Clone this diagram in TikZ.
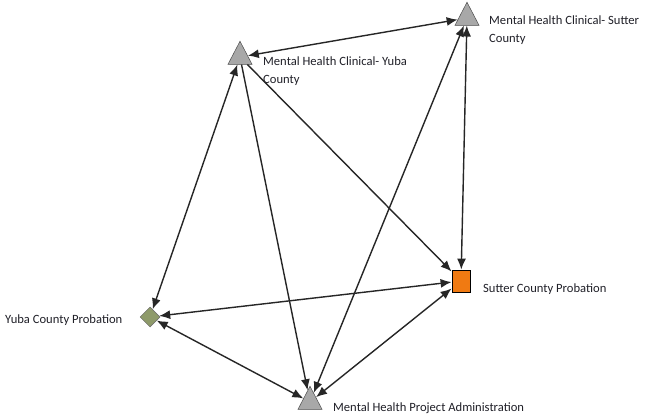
\documentclass[tikz,border=0pt]{standalone}
\usepackage{fontspec}
\setmainfont{Carlito}
\usetikzlibrary{shapes.geometric,arrows.meta}
\definecolor{actorgray}{HTML}{A8A8A8}
\definecolor{probor}{HTML}{F07A12}
\definecolor{probolive}{HTML}{8E9A6A}
\definecolor{labelink}{HTML}{202028}
\begin{document}
\begin{tikzpicture}[x=1pt,y=-1pt,
  tri/.style={isosceles triangle, shape border rotate=90, isosceles triangle stretches,
    minimum width=24pt, minimum height=23pt, inner sep=0pt, fill=actorgray, draw=black!70, line width=0.5pt},
  sq/.style={rectangle, minimum width=18pt, minimum height=22pt, inner sep=0pt, fill=probor, draw=black, line width=0.8pt},
  dia/.style={diamond, minimum width=20pt, minimum height=20pt, inner sep=0pt, fill=probolive, draw=black!60, line width=0.5pt},
  lbl/.style={anchor=west, font=\fontsize{12.6}{18}\selectfont, text=labelink, inner sep=0pt, align=left},
  tie/.style={line width=1.4pt, draw=black!85, {Latex[length=11pt,width=9pt]}-{Latex[length=11pt,width=9pt]}},
  oneway/.style={line width=1.4pt, draw=black!85, -{Latex[length=11pt,width=9pt]}}]
  \useasboundingbox (0,0) rectangle (646,417);
  \fill[white] (0,0) rectangle (646,417);

  % actors
  \node[tri] (yc) at (240,57) {};
  \node[tri] (sc) at (467,18) {};
  \node[sq]  (sp) at (461,281) {};
  \node[dia] (yp) at (150,317) {};
  \node[tri] (mh) at (310,402) {};

  % names
  \node[lbl] at (263,71) {Mental Health Clinical- Yuba\\County};
  \node[lbl] at (489,30) {Mental Health Clinical- Sutter\\County};
  \node[lbl] at (483,289) {Sutter County Probation};
  \node[lbl] at (5,320) {Yuba County Probation};
  \node[lbl] at (333,408) {Mental Health Project Administration};

  % ties
  \draw[tie] (yc) -- (sc);
  \draw[tie] (yc) -- (yp);
  \draw[oneway] (yc) -- (mh);
  \draw[oneway] (yc) -- (sp);
  \draw[tie] (sc) -- (sp);
  \draw[tie] (sc) -- (mh);
  \draw[tie] (yp) -- (sp);
  \draw[tie] (yp) -- (mh);
  \draw[tie] (sp) -- (mh);
\end{tikzpicture}
\end{document}
